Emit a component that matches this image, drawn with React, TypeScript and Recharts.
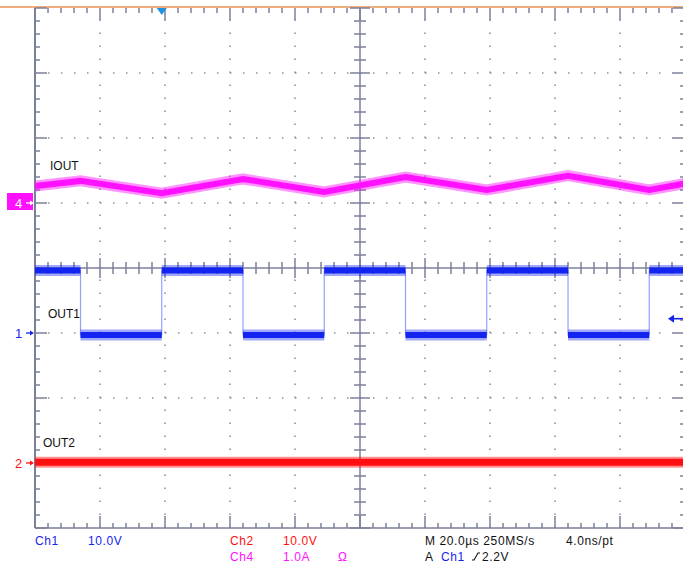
import { LineChart, Line, XAxis, YAxis, ReferenceLine, ReferenceDot } from 'recharts'

// scope screen: 10 div x 20 us horizontally, 8 div vertically
const TIME_SPAN_US = 200
const TIME_PER_DIV = 20
const V_DIVS = 8

// channel scales (units / div) and ground marker position (div from bottom)
const CH1_PER_DIV = 10
const CH1_GROUND_DIV = 3
const CH2_PER_DIV = 10
const CH2_GROUND_DIV = 1
const CH4_PER_DIV = 1
const CH4_GROUND_DIV = 5

// Ch4 = IOUT, ripple corners (us, A)
const IOUT_TIME = [0, 14, 39, 64, 89, 114, 139, 164, 189, 200]
const IOUT_AMPS = [0.26, 0.34, 0.15, 0.37, 0.17, 0.4, 0.2, 0.42, 0.2, 0.3]

// Ch1 = OUT1, square wave
const OUT1_FALL_US = [14, 64, 114, 164]
const OUT1_RISE_US = [39, 89, 139, 189]
const OUT1_HIGH_V = 9.6
const OUT1_LOW_V = -0.3

// Ch2 = OUT2, stays low
const OUT2_TIME = [0, 200]
const OUT2_VOLTS = [0.1, 0.1]

const TRIGGER_US = 39
const TRIGGER_LEVEL_V = 2.2

const BLUE = '#1424f0'
const RED = '#ff1010'
const MAGENTA = '#ff10ff'
const FRAME = '#7b8099'
const DOTS = '#8c90a4'

const iout = IOUT_TIME.map((t, i) => ({ t, v: IOUT_AMPS[i] }))
const out2 = OUT2_TIME.map((t, i) => ({ t, v: OUT2_VOLTS[i] }))

const edges = [
  ...OUT1_FALL_US.map((t) => ({ t, to: OUT1_LOW_V })),
  ...OUT1_RISE_US.map((t) => ({ t, to: OUT1_HIGH_V })),
].sort((a, b) => a.t - b.t)

const out1Trace: { t: number; v: number | null }[] = [{ t: 0, v: OUT1_HIGH_V }]
const out1Levels: { t: number; v: number | null }[] = [{ t: 0, v: OUT1_HIGH_V }]
let level = OUT1_HIGH_V
for (const e of edges) {
  out1Trace.push({ t: e.t, v: level }, { t: e.t, v: e.to })
  out1Levels.push({ t: e.t, v: level }, { t: e.t, v: null }, { t: e.t, v: e.to })
  level = e.to
}
out1Trace.push({ t: TIME_SPAN_US, v: level })
out1Levels.push({ t: TIME_SPAN_US, v: level })

// screen graticule is drawn on the ch4 axis (1 A = 1 div)
const divY = (d: number) => (d - CH4_GROUND_DIV) * CH4_PER_DIV
const MID_T = TIME_SPAN_US / 2

const divLinesX = [1, 2, 3, 4, 6, 7, 8, 9].map((d) => d * TIME_PER_DIV)
const divLinesY = [1, 2, 3, 5, 6, 7]
const minorT = Array.from({ length: 51 }, (_, i) => i)
const minorY = Array.from({ length: 41 }, (_, i) => i)

// tick lengths, px -> axis units
const pxT = TIME_PER_DIV / 65
const pxY = CH4_PER_DIV / 65

const marker = (label: string, color: string, boxed: boolean) => (p: any) => {
  const { cx, cy } = p
  const fg = boxed ? '#fff' : color
  return (
    <g>
      {boxed && <rect x={cx - 28} y={cy - 10} width={26} height={17} fill={color} />}
      <text x={cx - 20} y={cy + 5} fontSize={13} fill={fg} fontFamily='"Liberation Sans", Arial'>
        {label}
      </text>
      <line x1={cx - 9} y1={cy} x2={cx - 4} y2={cy} stroke={fg} strokeWidth={1.3} />
      <polygon points={`${cx - 5},${cy - 2.5} ${cx - 1},${cy} ${cx - 5},${cy + 2.5}`} fill={fg} />
    </g>
  )
}

const trigTop = (p: any) => (
  <polygon points={`${p.cx - 5},${p.cy} ${p.cx + 5},${p.cy} ${p.cx},${p.cy + 7}`} fill="#2090e0" />
)

const trigLevel = (p: any) => (
  <g>
    <line x1={p.cx - 13} y1={p.cy} x2={p.cx - 2} y2={p.cy} stroke={BLUE} strokeWidth={1.6} />
    <polygon points={`${p.cx - 17},${p.cy} ${p.cx - 11},${p.cy - 4} ${p.cx - 11},${p.cy + 4}`} fill={BLUE} />
  </g>
)

export default function App() {
  const ticks: any[] = []
  const tk = { yAxisId: 'ch4', stroke: FRAME, strokeWidth: 1.5, ifOverflow: 'visible' as const }
  minorT.forEach((i) => {
    const t = i * (TIME_PER_DIV / 5)
    const major = i % 5 === 0
    const edge = (major ? 12 : 5) * pxY
    const mid = (major ? 10 : 6) * pxY
    ticks.push(
      <ReferenceLine key={`tt${i}`} {...tk} segment={[{ x: t, y: divY(V_DIVS) }, { x: t, y: divY(V_DIVS) - edge }]} />,
      <ReferenceLine key={`tb${i}`} {...tk} segment={[{ x: t, y: divY(0) }, { x: t, y: divY(0) + edge }]} />,
      <ReferenceLine key={`tc${i}`} {...tk} segment={[{ x: t, y: divY(4) - mid }, { x: t, y: divY(4) + mid }]} />
    )
  })
  minorY.forEach((i) => {
    const y = divY(i / 5)
    const major = i % 5 === 0
    const edge = (major ? 12 : 5) * pxT
    const mid = (major ? 10 : 6) * pxT
    ticks.push(
      <ReferenceLine key={`yl${i}`} {...tk} segment={[{ x: 0, y }, { x: edge, y }]} />,
      <ReferenceLine key={`yr${i}`} {...tk} segment={[{ x: TIME_SPAN_US, y }, { x: TIME_SPAN_US - edge, y }]} />,
      <ReferenceLine key={`yc${i}`} {...tk} segment={[{ x: MID_T - mid, y }, { x: MID_T + mid, y }]} />
    )
  })

  const txt = { fontFamily: '"Liberation Sans", Arial, sans-serif', fontSize: 12 }
  const info = { letterSpacing: 0.6 }

  return (
    <div style={{ position: 'absolute', left: 0, top: 0, width: 683, height: 569, overflow: 'hidden', background: '#fff' }}>
      <div style={{ position: 'absolute', left: 0, top: 6, width: 683, height: 1.5, background: '#efae7c' }} />
      <LineChart width={690} height={569} margin={{ top: 8, left: 35, right: 5, bottom: 41 }} style={{ position: 'absolute', left: 0, top: 0 }}>
        <XAxis dataKey="t" type="number" domain={[0, TIME_SPAN_US]} hide allowDataOverflow />
        <YAxis yAxisId="ch1" type="number" domain={[-CH1_GROUND_DIV * CH1_PER_DIV, (V_DIVS - CH1_GROUND_DIV) * CH1_PER_DIV]} hide allowDataOverflow />
        <YAxis yAxisId="ch2" type="number" domain={[-CH2_GROUND_DIV * CH2_PER_DIV, (V_DIVS - CH2_GROUND_DIV) * CH2_PER_DIV]} hide allowDataOverflow />
        <YAxis yAxisId="ch4" type="number" domain={[-CH4_GROUND_DIV * CH4_PER_DIV, (V_DIVS - CH4_GROUND_DIV) * CH4_PER_DIV]} hide allowDataOverflow />

        {divLinesX.map((x) => (
          <ReferenceLine key={`gx${x}`} yAxisId="ch4" x={x} stroke={DOTS} strokeWidth={1.6} strokeDasharray="1.5 11.5" />
        ))}
        {divLinesY.map((d) => (
          <ReferenceLine key={`gy${d}`} yAxisId="ch4" y={divY(d)} stroke={DOTS} strokeWidth={1.6} strokeDasharray="1.5 11.5" />
        ))}
        <ReferenceLine yAxisId="ch4" x={0} stroke={FRAME} strokeWidth={2} />
        <ReferenceLine yAxisId="ch4" x={TIME_SPAN_US} stroke={FRAME} strokeWidth={2} />
        <ReferenceLine yAxisId="ch4" y={divY(0)} stroke={FRAME} strokeWidth={1.5} />
        <ReferenceLine yAxisId="ch4" x={MID_T} stroke={FRAME} strokeWidth={1.5} />
        <ReferenceLine yAxisId="ch4" y={divY(4)} stroke={FRAME} strokeWidth={1.5} />
        {ticks}

        <Line yAxisId="ch4" data={iout} dataKey="v" type="linear" stroke={MAGENTA} strokeOpacity={0.45} strokeWidth={11} dot={false} isAnimationActive={false} />
        <Line yAxisId="ch4" data={iout} dataKey="v" type="linear" stroke={MAGENTA} strokeWidth={6} dot={false} isAnimationActive={false} />

        <Line yAxisId="ch1" data={out1Trace} dataKey="v" type="linear" stroke="#5060ff" strokeOpacity={0.6} strokeWidth={1.2} dot={false} isAnimationActive={false} />
        <Line yAxisId="ch1" data={out1Levels} dataKey="v" type="linear" stroke={BLUE} strokeOpacity={0.4} strokeWidth={11} dot={false} isAnimationActive={false} />
        <Line yAxisId="ch1" data={out1Levels} dataKey="v" type="linear" stroke={BLUE} strokeWidth={6} dot={false} isAnimationActive={false} />

        <Line yAxisId="ch2" data={out2} dataKey="v" type="linear" stroke={RED} strokeOpacity={0.45} strokeWidth={11} dot={false} isAnimationActive={false} />
        <Line yAxisId="ch2" data={out2} dataKey="v" type="linear" stroke={RED} strokeWidth={7} dot={false} isAnimationActive={false} />

        <ReferenceDot yAxisId="ch4" x={0} y={0} ifOverflow="visible" shape={marker('4', MAGENTA, true)} />
        <ReferenceDot yAxisId="ch1" x={0} y={0} ifOverflow="visible" shape={marker('1', BLUE, false)} />
        <ReferenceDot yAxisId="ch2" x={0} y={0} ifOverflow="visible" shape={marker('2', RED, false)} />
        <ReferenceDot yAxisId="ch4" x={TRIGGER_US} y={divY(V_DIVS)} ifOverflow="visible" shape={trigTop} />
        <ReferenceDot yAxisId="ch1" x={TIME_SPAN_US} y={TRIGGER_LEVEL_V} ifOverflow="visible" shape={trigLevel} />
      </LineChart>

      <svg width={683} height={569} style={{ position: 'absolute', left: 0, top: 0, pointerEvents: 'none' }}>
        <g style={txt}>
          <text x={50} y={170} fill="#111">IOUT</text>
          <text x={48} y={318} fill="#111">OUT1</text>
          <text x={43} y={447} fill="#111">OUT2</text>
        </g>
        <g style={{ ...txt, ...info }}>
          <text x={35} y={545} fill={BLUE}>Ch1</text>
          <text x={88} y={545} fill={BLUE}>10.0V</text>
          <text x={230} y={545} fill={RED}>Ch2</text>
          <text x={283} y={545} fill={RED}>10.0V</text>
          <text x={230} y={561} fill={MAGENTA}>Ch4</text>
          <text x={283} y={561} fill={MAGENTA}>1.0A</text>
          <text x={338} y={561} fill={MAGENTA}>Ω</text>
          <text x={425} y={545} fill="#111">M 20.0µs 250MS/s</text>
          <text x={566} y={545} fill="#111">4.0ns/pt</text>
          <text x={425} y={561} fill="#111">A</text>
          <text x={441} y={561} fill={BLUE}>Ch1</text>
          <text x={482} y={561} fill="#111">2.2V</text>
        </g>
        <path d="M472,560 H474 L478,553 H480" stroke="#111" strokeWidth={1.1} fill="none" />
      </svg>
    </div>
  )
}
